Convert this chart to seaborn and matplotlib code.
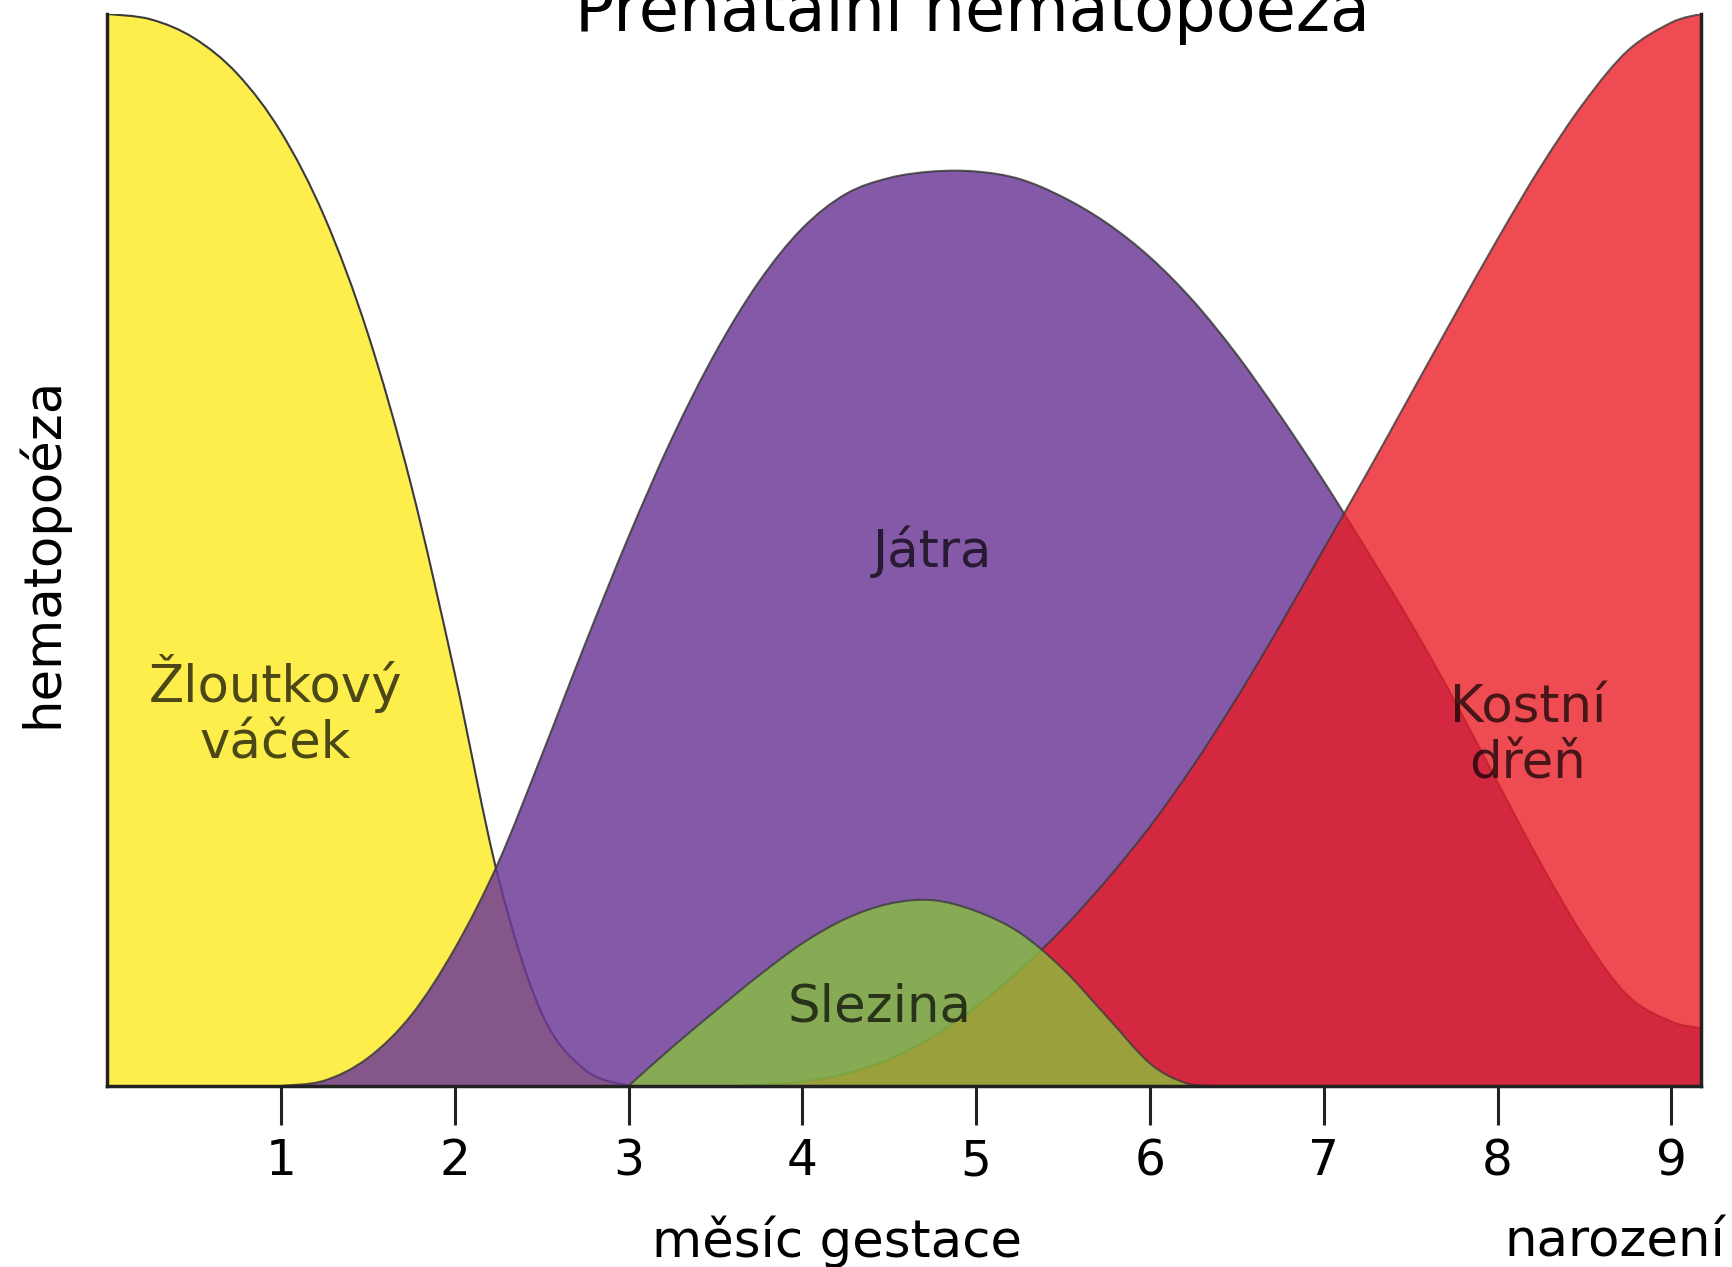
import matplotlib
matplotlib.use("Agg")
import matplotlib.pyplot as plt
from matplotlib.path import Path
from matplotlib.patches import PathPatch
import seaborn as sns

# Month of gestation vs. relative haematopoietic activity of each site
yolk_month = [0.0, 0.25, 0.5, 0.75, 1.0, 1.25, 1.5, 1.75, 2.0, 2.25, 2.5, 2.75, 3.0]
yolk_level = [1.0, 0.995, 0.9775, 0.944, 0.89, 0.811, 0.702, 0.56, 0.385, 0.195, 0.068, 0.015, 0.0]

liver_month = [1.0, 1.25, 1.5, 1.75, 2.0, 2.25, 2.5, 2.75, 3.0, 3.25, 3.5, 3.75, 4.0, 4.25, 4.5,
               4.75, 5.0, 5.25, 5.5, 5.75, 6.0, 6.25, 6.5, 6.75, 7.0, 7.25, 7.5, 7.75, 8.0, 8.25,
               8.5, 8.75, 9.0, 9.17]
liver_level = [0.0, 0.005, 0.026, 0.066, 0.128, 0.208, 0.308, 0.412, 0.512, 0.604, 0.684, 0.75,
               0.80, 0.832, 0.847, 0.853, 0.853, 0.846, 0.829, 0.805, 0.773, 0.732, 0.682, 0.625,
               0.564, 0.499, 0.432, 0.36, 0.283, 0.207, 0.138, 0.084, 0.06, 0.054]

marrow_month = [3.6, 3.75, 4.0, 4.25, 4.5, 4.75, 5.0, 5.25, 5.5, 5.75, 6.0, 6.25, 6.5, 6.75, 7.0,
                7.25, 7.5, 7.75, 8.0, 8.25, 8.5, 8.75, 9.0, 9.17]
marrow_level = [0.0, 0.001, 0.004, 0.0115, 0.025, 0.046, 0.074, 0.108, 0.147, 0.192, 0.242, 0.299,
                0.362, 0.43, 0.501, 0.572, 0.645, 0.718, 0.79, 0.858, 0.918, 0.966, 0.992, 1.0]

spleen_month = [3.0, 3.25, 3.5, 3.75, 4.0, 4.25, 4.5, 4.75, 5.0, 5.25, 5.5, 5.75, 6.0, 6.2, 6.35]
spleen_level = [0.0, 0.036, 0.07, 0.103, 0.133, 0.156, 0.17, 0.1733, 0.163, 0.143, 0.109, 0.065,
                0.021, 0.003, 0.0]

site_names = ["Žloutkový\nváček", "Játra", "Kostní\ndřeň", "Slezina"]
month_ticks = [1, 2, 3, 4, 5, 6, 7, 8, 9]
month_end = 9.17

sns.set_theme(style="ticks")
plt.rcParams["font.family"] = ["DejaVu Sans"]
plt.rcParams["text.color"] = "black"


def smooth_path(xs, ys, closed=False):
    """Cubic Bezier path through the given points (Catmull-Rom tangents)."""
    pts = list(zip(xs, ys))
    n = len(pts)
    verts = [pts[0]]
    codes = [Path.MOVETO]
    for i in range(n - 1):
        p0 = pts[max(i - 1, 0)]
        p1 = pts[i]
        p2 = pts[i + 1]
        p3 = pts[min(i + 2, n - 1)]
        c1 = (p1[0] + (p2[0] - p0[0]) / 6.0, p1[1] + (p2[1] - p0[1]) / 6.0)
        c2 = (p2[0] - (p3[0] - p1[0]) / 6.0, p2[1] - (p3[1] - p1[1]) / 6.0)
        verts += [c1, c2, p2]
        codes += [Path.CURVE4] * 3
    if closed:
        verts += [(xs[-1], 0.0), (xs[0], 0.0), pts[0]]
        codes += [Path.LINETO, Path.LINETO, Path.CLOSEPOLY]
    return Path(verts, codes)


fig = plt.figure(figsize=(17.32, 12.67), dpi=100)
ax = fig.add_axes([0.0618, 0.1429, 0.9203, 0.8461])

layers = [
    (yolk_month, yolk_level, (253 / 255, 238 / 255, 76 / 255), 1.0),
    (liver_month, liver_level, (109 / 255, 57 / 255, 150 / 255), 0.84),
    (marrow_month, marrow_level, (234 / 255, 27 / 255, 36 / 255), 0.79),
    (spleen_month, spleen_level, (136 / 255, 197 / 255, 60 / 255), 0.77),
]

z = 1
for months, levels, colour, alpha in layers:
    ax.add_patch(PathPatch(smooth_path(months, levels, closed=True), facecolor=colour,
                           edgecolor="none", alpha=alpha, zorder=z))
    ax.add_patch(PathPatch(smooth_path(months, levels), facecolor="none",
                           edgecolor="#3a3a3a", linewidth=1.5, alpha=alpha, zorder=z + 0.5))
    z += 1

ax.set_xlim(0, month_end)
ax.set_ylim(0, 1.0)
ax.set_xticks(month_ticks)
ax.set_xticklabels([str(m) for m in month_ticks])
ax.set_yticks([])

sns.despine(ax=ax, top=True, right=False)
for side in ("left", "bottom", "right"):
    ax.spines[side].set_color("#222222")
    ax.spines[side].set_linewidth(2.5)
    ax.spines[side].set_zorder(10)
ax.tick_params(axis="x", direction="out", length=28, width=2.2, color="#222222",
               labelsize=35, pad=9, labelcolor="black")

# Region labels
text_kw = dict(ha="center", va="center", fontsize=37, color="black", alpha=0.7,
               linespacing=1.15, zorder=20)
label_pos = [(0.968, 0.349), (4.75, 0.498), (8.173, 0.326), (4.445, 0.0735)]
for name, (mx, my) in zip(site_names, label_pos):
    ax.text(mx, my, name, **text_kw)

fig.text(0.5612, 0.9755, "Prenatální hematopoéza", ha="center", va="baseline",
         fontsize=47, color="black")
fig.text(0.4833, 0.0079, "měsíc gestace", ha="center", va="baseline", fontsize=37, color="black")
fig.text(0.996, 0.0079, "narození", ha="right", va="baseline", fontsize=37, color="black")
fig.text(0.0242, 0.5643, "hematopoéza", ha="center", va="center", rotation=90,
         fontsize=37, color="black")

fig.savefig("out.png", dpi=100)
